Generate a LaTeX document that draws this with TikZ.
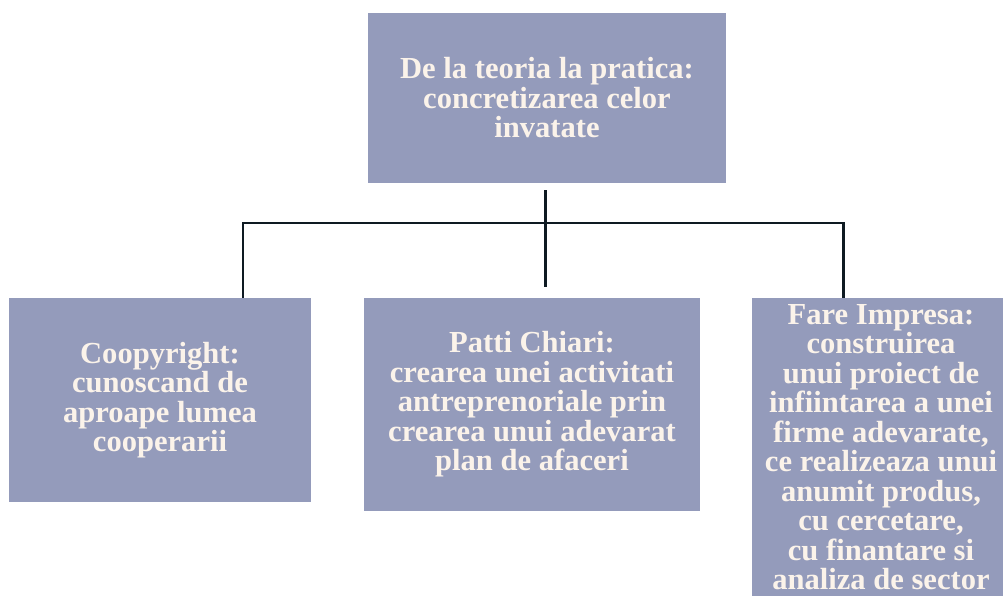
\documentclass[tikz,border=0pt]{standalone}
\usepackage{fontspec}
\setmainfont{Liberation Serif}
\usepackage{xcolor}
\usetikzlibrary{shapes, arrows, positioning}
\definecolor{boxfill}{HTML}{949BBB}
\definecolor{boxtext}{HTML}{FBF3EA}
\definecolor{linkcol}{HTML}{0E1A22}
\tikzstyle{topic} = [rectangle, fill=boxfill, text=boxtext, align=center, font=\bfseries\fontsize{17.4}{16.8}\selectfont, inner sep=0pt]
\tikzstyle{link} = [draw=linkcol, line width=1.7pt]

\begin{document}
\begin{tikzpicture}
        \useasboundingbox (0,0) rectangle (20.06,-11.92);
        \clip (0,0) rectangle (20.06,-11.92);
        % Main topic
        \node (main) [topic, minimum width=7.16cm, minimum height=3.4cm] at (10.94,-1.96) {De la teoria la pratica:\\concretizarea celor\\invatate};
        
        % Sub topics
        \node (coop) [topic, minimum width=6.04cm, minimum height=4.08cm] at (3.2,-8.0) {Coopyright:\\cunoscand de\\aproape lumea\\cooperarii};
        \node (patti) [topic, minimum width=6.72cm, minimum height=4.26cm] at (10.64,-8.09) {Patti Chiari:\\crearea unei activitati\\antreprenoriale prin\\crearea unui adevarat\\plan de afaceri};
        \node (fare) [topic, minimum width=5.16cm, minimum height=5.96cm] at (17.62,-8.94) {Fare Impresa:\\construirea\\unui proiect de\\infiintarea a unei\\firme adevarate,\\ce realizeaza unui\\anumit produs,\\cu cercetare,\\cu finantare si\\analiza de sector};
        
        % Junctions
        \coordinate (jtop) at (10.9,-3.8);
        \coordinate (jmid) at (10.9,-4.46);
        \coordinate (jleft) at (4.86,-4.46);
        \coordinate (jright) at (16.86,-4.46);
        \coordinate (jpatti) at (10.9,-5.74);
        
        % Lines
        \draw [link] (jtop) -- (jmid);
        \draw [link, line cap=rect] (jleft) -- (jright);
        \draw [link] (jleft) -- (jleft |- coop.north);
        \draw [link] (jmid) -- (jpatti);
        \draw [link] (jright) -- (jright |- fare.north);

    \end{tikzpicture}
\end{document}
